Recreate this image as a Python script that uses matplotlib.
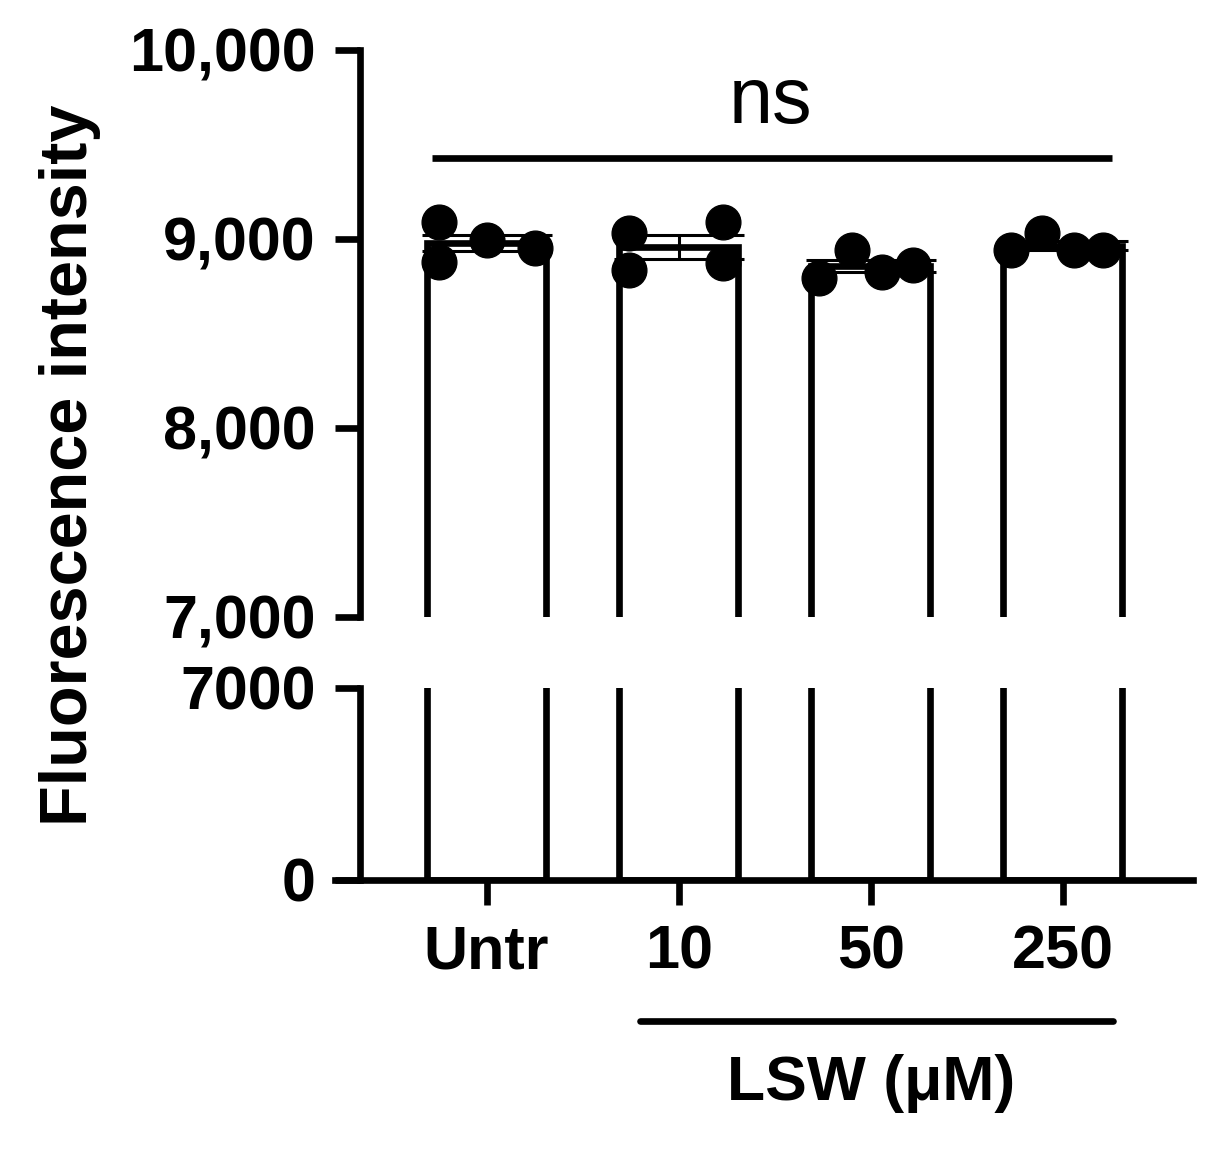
import numpy as np
import matplotlib
matplotlib.use("Agg")
import matplotlib.pyplot as plt
from matplotlib.transforms import blended_transform_factory

# ---- data ----
categories = ["Untr", "10", "50", "250"]
untr = [9090, 8878, 8995, 8952]
lsw10 = [9032, 8836, 9090, 8873]
lsw50 = [8794, 8942, 8825, 8862]
lsw250 = [8942, 9032, 8942, 8942]
groups = [untr, lsw10, lsw50, lsw250]
jitter = [[-0.25, -0.25, 0.0, 0.25],
          [-0.26, -0.26, 0.23, 0.23],
          [-0.27, -0.10, 0.06, 0.22],
          [-0.27, -0.11, 0.06, 0.21]]
top_ticks = [7000, 8000, 9000, 10000]
top_ticklabels = ["7,000", "8,000", "9,000", "10,000"]
bot_ticks = [0, 7000]
bot_ticklabels = ["0", "7000"]
ylabel = "Fluorescence intensity"
group_label = "LSW (\u03bcM)"
sig_label = "ns"

means = [np.mean(g) for g in groups]
sems = [np.std(g, ddof=1) / np.sqrt(len(g)) for g in groups]

plt.rcParams['font.family'] = ['Liberation Sans', 'DejaVu Sans']
FS = 44
LW = 4.8

fig = plt.figure(figsize=(12.12, 11.52), dpi=100)
L, R = 360 / 1212, 1193 / 1212
ax_top = fig.add_axes([L, 1 - 617 / 1152, R - L, (617 - 50) / 1152])
ax_bot = fig.add_axes([L, 1 - 880 / 1152, R - L, (880 - 688) / 1152])

x = np.arange(len(categories))
xlim = (-0.659, 3.677)

for ax, (lo, hi) in [(ax_top, (7000, 10000)), (ax_bot, (0, 7000))]:
    ax.bar(x, means, width=0.62, color="white", edgecolor="black",
           linewidth=LW, zorder=2)
    ax.set_xlim(*xlim)
    ax.set_ylim(lo, hi)
    for s in ["top", "right"]:
        ax.spines[s].set_visible(False)
    ax.spines["left"].set_linewidth(LW)
    ax.spines["bottom"].set_linewidth(LW)
    ax.tick_params(axis="y", length=18, width=LW, pad=14, labelsize=FS)
    ax.tick_params(axis="x", length=18, width=LW, pad=14, labelsize=FS)

# top axes
ax_top.spines["bottom"].set_visible(False)
ax_top.tick_params(axis="x", bottom=False, labelbottom=False)
ax_top.set_yticks(top_ticks)
ax_top.set_yticklabels(top_ticklabels, fontweight="bold", fontsize=FS)
ax_top.errorbar(x, means, yerr=sems, fmt="none", ecolor="black",
                elinewidth=2.2, capsize=47, capthick=2.2, zorder=3)
for i, g in enumerate(groups):
    ax_top.plot(x[i] + np.array(jitter[i]), g, "o", color="black",
                markersize=25, zorder=4, clip_on=False)

# significance
ax_top.plot([-0.285, 3.255], [9429, 9429], color="black", lw=LW,
            clip_on=False, solid_capstyle="butt")
ax_top.text(1.48, 9614, sig_label, ha="center", va="baseline",
            fontsize=57, clip_on=False)

# bottom axes
ax_bot.set_yticks(bot_ticks)
ax_bot.set_yticklabels(bot_ticklabels, fontweight="bold", fontsize=FS)
ax_bot.set_xticks(x)
ax_bot.set_xticklabels(categories, fontweight="bold", fontsize=FS)
ax_bot.spines["bottom"].set_bounds(-0.79, 3.677)

# group bar
tr = blended_transform_factory(ax_bot.transData, fig.transFigure)
ax_bot.plot([0.80, 3.26], [1 - 1021 / 1152] * 2, color="black", lw=LW,
            transform=tr, clip_on=False, solid_capstyle="round")
ax_bot.text(2.0, 1 - 1100 / 1152, group_label, transform=tr, ha="center",
            va="baseline", fontsize=FS + 1, fontweight="bold")

fig.text(0.058, 1 - 465 / 1152, ylabel, rotation=90, ha="center",
         va="center", fontsize=48, fontweight="bold")

fig.savefig("out.png", dpi=100)
